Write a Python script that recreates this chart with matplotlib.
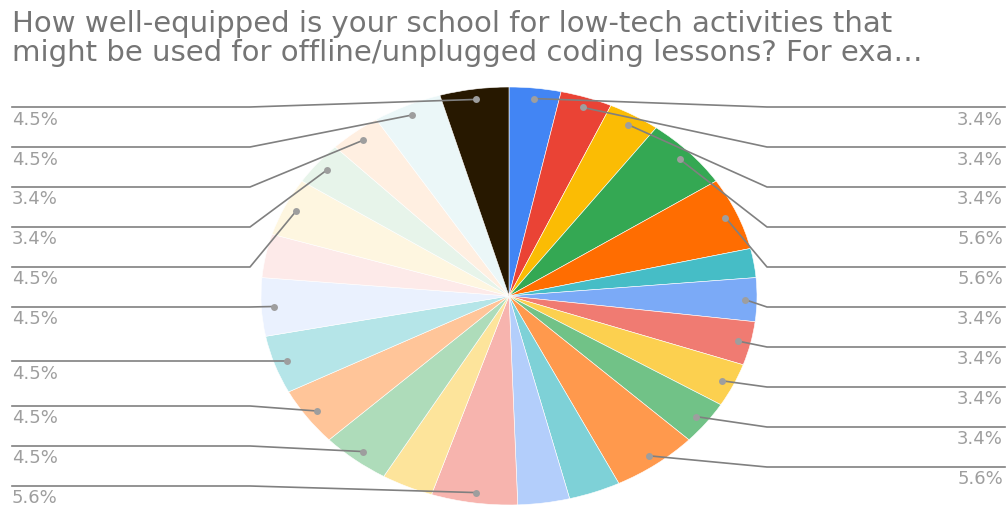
import numpy as np
import matplotlib
matplotlib.use("Agg")
import matplotlib.pyplot as plt

# title as it is wrapped in the chart
title_lines = ["How well-equipped is your school for low-tech activities that",
               "might be used for offline/unplugged coding lessons? For exa\u2026"]

# responses per option, clockwise from 12 o'clock (89 answers in total)
responses = [3, 3, 3, 5, 5, 2, 3, 3, 3, 3, 5, 3, 3,
             5, 3, 4, 4, 4, 4, 3, 4, 3, 3, 4, 4]
colors = ["#4285f4", "#ea4335", "#fbbc04", "#34a853", "#ff6d01", "#46bdc6",
          "#7baaf7", "#f07b72", "#fcd04f", "#71c287", "#ff994d", "#7ed1d7",
          "#b3cefb", "#f7b4ae", "#fde49b", "#aedcba", "#ffc599", "#b5e5e8",
          "#eaf1fe", "#fdeae9", "#fef6e0", "#e7f4ea", "#ffefe1", "#ebf7f8",
          "#271800"]
# slices without a visible label in the chart
hidden = [5, 11, 12, 14, 19]

W, H = 1008, 506
cx, cy = 509, 297      # pie centre, px
rx, ry = 248, 209      # the chart is stretched sideways
gap, ytop, ybot = 40, 108, 487

fig = plt.figure(figsize=(W / 100, H / 100), dpi=100)
fig.patch.set_facecolor("white")

axp = fig.add_axes([(cx - rx) / W, (H - cy - ry) / H, 2 * rx / W, 2 * ry / H])
wedges, _ = axp.pie(responses, colors=colors, startangle=90, counterclock=False,
                    wedgeprops=dict(linewidth=0.4, edgecolor="white"))
axp.set_aspect("auto")
axp.set_xlim(-1, 1)
axp.set_ylim(-1, 1)
axp.axis("off")

ov = fig.add_axes([0, 0, 1, 1])
ov.set_xlim(0, W)
ov.set_ylim(H, 0)
ov.axis("off")

for i, line in enumerate(title_lines):
    ov.text(12, 32 + 29 * i, line, fontsize=21, color="#757575",
            va="baseline", ha="left", family="DejaVu Sans")

total = float(sum(responses))
left, right = [], []
for i, w in enumerate(wedges):
    if i in hidden:
        continue
    mid = np.deg2rad((w.theta1 + w.theta2) / 2)
    dx = cx + 0.95 * rx * np.cos(mid)
    dy = cy - 0.95 * ry * np.sin(mid)
    lab = "%.1f%%" % (responses[i] / total * 100)
    (right if dx > cx else left).append([dy, dx, lab])


def place(items):
    # push labels apart going down, then back up from the bottom limit
    items.sort()
    ys = []
    for d in items:
        y = max(d[0], ytop) if not ys else max(d[0], ys[-1] + gap)
        ys.append(y)
    for k in range(len(ys) - 1, -1, -1):
        lim = ybot if k == len(ys) - 1 else ys[k + 1] - gap
        ys[k] = min(ys[k], lim)
    return ys


for side, items in (("l", left), ("r", right)):
    ys = place(items)
    for (dy, dx, lab), y in zip(items, ys):
        if side == "l":
            ov.plot([12, 250, dx], [y, y, dy], color="#808080", lw=1.2)
            ov.text(12, y + 16.5, lab, ha="left", va="baseline", fontsize=13,
                    color="#9e9e9e")
        else:
            ov.plot([1005, 767, dx], [y, y, dy], color="#808080", lw=1.2)
            ov.text(1003, y + 16.5, lab, ha="right", va="baseline", fontsize=13,
                    color="#9e9e9e")
        ov.plot(dx, dy, "o", ms=5, color="#9e9e9e", mec="none")

fig.savefig("out.png", dpi=100)
